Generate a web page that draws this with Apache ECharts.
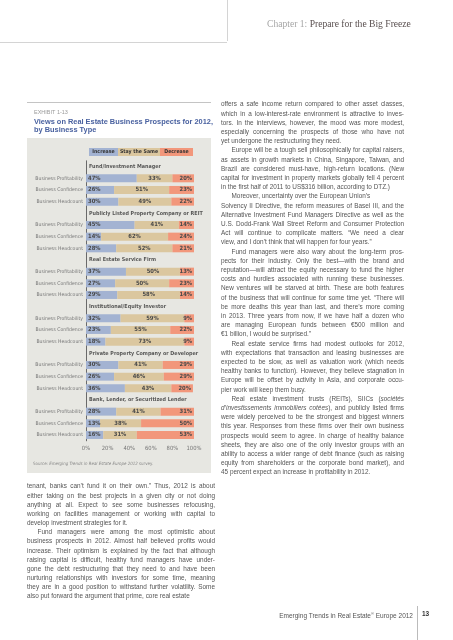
<!DOCTYPE html>
<html><head><meta charset="utf-8">
<script src="https://cdn.jsdelivr.net/npm/echarts@6/dist/echarts.min.js"></script>
<style>
html,body{margin:0;padding:0;background:#fff;}
#wrap{position:relative;width:453px;height:640px;overflow:hidden;}
#chart{position:absolute;left:0;top:0;width:453px;height:640px;}
.ln{position:absolute;font-family:"Liberation Sans",Arial,sans-serif;font-size:6.4px;line-height:9.2px;color:#555;white-space:nowrap;text-align:left;}
.ln.j{text-align:justify;text-align-last:justify;}
.rule{position:absolute;background:#d4d4d4;}
</style></head>
<body><div id="wrap"><div id="chart"></div><div id="txt"></div></div>
<script>
// ---- data ----
const groups = ['Fund/Investment Manager','Publicly Listed Property Company or REIT','Real Estate Service Firm','Institutional/Equity Investor','Private Property Company or Developer','Bank, Lender, or Securitized Lender'];
const metrics = ['Business Profitability','Business Confidence','Business Headcount'];
const increase = [47,26,30, 45,14,28, 37,27,29, 32,23,18, 30,26,36, 28,13,16];
const stay     = [33,51,49, 41,62,52, 50,50,58, 59,55,73, 41,46,43, 41,38,31];
const decrease = [20,23,22, 14,24,21, 13,23,14,  9,22, 9, 29,29,20, 31,50,53];
const seriesNames = ['Increase','Stay the Same','Decrease'];
const xTicks = ['0%','20%','40%','60%','80%','100%'];

const colors = ['#a3b3d2','#dbc79f','#f2977b'];
const narrow = '"Liberation Sans Narrow","Arial Narrow","DejaVu Sans Condensed",sans-serif';

// build slots: header + 3 metric rows per group
const cats = [], isHeader = [], headerPts = [];
const dInc = [], dStay = [], dDec = [];
groups.forEach((g, gi) => {
  headerPts.push([0, cats.length, g]);
  cats.push(g); isHeader.push(true);
  dInc.push('-'); dStay.push('-'); dDec.push('-');
  metrics.forEach((m, mi) => {
    const k = gi*3+mi;
    cats.push(m); isHeader.push(false);
    dInc.push(increase[k]); dStay.push(stay[k]); dDec.push(decrease[k]);
  });
});

const chart = echarts.init(document.getElementById('chart'), null, {renderer:'canvas'});
const lblBase = {show:true, formatter:'{c}%', fontSize:5.8, fontWeight:'bold', color:'#4a4a4a', fontFamily:narrow};
const mkBar = (name, data, color, pos) => ({
  name, type:'bar', stack:'all', data, barWidth:8,
  itemStyle:{color},
  label:Object.assign({}, lblBase, {position:pos, distance:2}),
  z:3
});
const legendW = [29,42,33];
let lx = 89;
const legendEls = [];
seriesNames.forEach((n,i)=>{
  legendEls.push({type:'rect', shape:{x:lx,y:148,width:legendW[i],height:8}, style:{fill:colors[i]}, z:5});
  legendEls.push({type:'text', x:lx+legendW[i]/2, y:152, style:{text:n, fill:'#333', font:'bold 5.2px '+narrow, align:'center', verticalAlign:'middle'}, z:6});
  lx += legendW[i];
});

chart.setOption({
  animation:false,
  backgroundColor:'#fff',
  graphic:[
    {type:'rect', shape:{x:27,y:138,width:184,height:335}, style:{fill:'#e7e7e2'}, z:-10},
    {type:'rect', shape:{x:27,y:102,width:184,height:1}, style:{fill:'#c4c4c4'}, z:-5},
    {type:'text', x:34, y:112.5, style:{text:'EXHIBIT 1-13', fill:'#9a9a9a', font:'5.5px "Liberation Sans",sans-serif', verticalAlign:'middle'}},
    {type:'text', x:34, y:121.5, style:{text:'Views on Real Estate Business Prospects for 2012,', fill:'#4a62a0', font:'bold 7.4px "Liberation Sans",sans-serif', verticalAlign:'middle'}},
    {type:'text', x:34, y:130, style:{text:'by Business Type', fill:'#4a62a0', font:'bold 7.4px "Liberation Sans",sans-serif', verticalAlign:'middle'}},
    {type:'text', x:33, y:464, style:{rich:{a:{fontSize:4.4,fill:'#888',fontFamily:narrow},b:{fontSize:4.4,fill:'#888',fontStyle:'italic',fontFamily:narrow}}, text:'{a|Source: }{b|Emerging Trends in Real Estate Europe 2012}{a| survey.}', verticalAlign:'middle'}},
    ...legendEls
  ],
  grid:{left:86, top:160.8, width:108, height:280, containLabel:false},
  xAxis:{type:'value', min:0, max:100, interval:20,
    axisLine:{show:false}, axisTick:{show:false}, splitLine:{show:false},
    axisLabel:{formatter:v=>xTicks[Math.round(v/20)], fontSize:5.8, color:'#777', margin:5, fontFamily:narrow}},
  yAxis:{type:'category', data:cats, inverse:true,
    axisLine:{show:true, lineStyle:{color:'#6a6a6a', width:1}}, axisTick:{show:false},
    axisLabel:{formatter:(v,i)=>isHeader[i]?'':v, fontSize:5.1, color:'#777', margin:3, fontFamily:narrow}},
  series:[
    mkBar(seriesNames[0], dInc, colors[0], 'insideLeft'),
    mkBar(seriesNames[1], dStay, colors[1], 'inside'),
    mkBar(seriesNames[2], dDec, colors[2], 'insideRight'),
    {type:'scatter', data:headerPts, symbolSize:0, silent:true, z:4,
     label:{show:true, position:'right', distance:3, formatter:p=>p.data[2], fontSize:5.4, fontWeight:'bold', color:'#333', fontFamily:narrow}}
  ]
});

// ---- page text (not chart data) ----
const rightLines = [
 ['offers a safe income return compared to other asset classes,',0,1],
 ['which in a low-interest-rate environment is attractive to inves-',0,1],
 ['tors. In the interviews, however, the mood was more modest,',0,1],
 ['especially concerning the prospects of those who have not',0,1],
 ['yet undergone the restructuring they need.',0,0],
 ['Europe will be a tough sell philosophically for capital raisers,',1,1],
 ['as assets in growth markets in China, Singapore, Taiwan, and',0,1],
 ['Brazil are considered must-have, high-return locations. (New',0,1],
 ['capital for investment in property markets globally fell 4 percent',0,1],
 ['in the first half of 2011 to US$316 billion, according to DTZ.)',0,0],
 ['Moreover, uncertainty over the European Union\u2019s',1,0],
 ['Solvency II Directive, the reform measures of Basel III, and the',0,1],
 ['Alternative Investment Fund Managers Directive as well as the',0,1],
 ['U.S. Dodd-Frank Wall Street Reform and Consumer Protection',0,1],
 ['Act will continue to complicate matters. \u201cWe need a clear',0,1],
 ['view, and I don\u2019t think that will happen for four years.\u201d',0,0],
 ['Fund managers were also wary about the long-term pros-',1,1],
 ['pects for their industry. Only the best\u2014with the brand and',0,1],
 ['reputation\u2014will attract the equity necessary to fund the higher',0,1],
 ['costs and hurdles associated with running these businesses.',0,1],
 ['New ventures will be starved at birth. These are both features',0,1],
 ['of the business that will continue for some time yet. \u201cThere will',0,1],
 ['be more deaths this year than last, and there\u2019s more coming',0,1],
 ['in 2013. Three years from now, if we have half a dozen who',0,1],
 ['are managing European funds between \u20ac500 million and',0,1],
 ['\u20ac1 billion, I would be surprised.\u201d',0,0],
 ['Real estate service firms had modest outlooks for 2012,',1,1],
 ['with expectations that transaction and leasing businesses are',0,1],
 ['expected to be slow, as well as valuation work (which needs',0,1],
 ['healthy banks to function). However, they believe stagnation in',0,1],
 ['Europe will be offset by activity in Asia, and corporate occu-',0,1],
 ['pier work will keep them busy.',0,0],
 ['Real estate investment trusts (REITs), SIICs (<i>soci\u00e9t\u00e9s</i>',1,1],
 ['<i>d\u2019investissements immobiliers cot\u00e9es</i>), and publicly listed firms',0,1],
 ['were widely perceived to be the strongest and biggest winners',0,1],
 ['this year. Responses from these firms over their own business',0,1],
 ['prospects would seem to agree. In charge of healthy balance',0,1],
 ['sheets, they are also one of the only investor groups with an',0,1],
 ['ability to access a wider range of debt finance (such as raising',0,1],
 ['equity from shareholders or the corporate bond market), and',0,1],
 ['45 percent expect an increase in profitability in 2012.',0,0]
];
const leftLines = [
 ['tenant, banks can\u2019t fund it on their own.\u201d Thus, 2012 is about',0,1],
 ['either taking on the best projects in a given city or not doing',0,1],
 ['anything at all. Expect to see some businesses refocusing,',0,1],
 ['working on facilities management or working with capital to',0,1],
 ['develop investment strategies for it.',0,0],
 ['Fund managers were among the most optimistic about',1,1],
 ['business prospects in 2012. Almost half believed profits would',0,1],
 ['increase. Their optimism is explained by the fact that although',0,1],
 ['raising capital is difficult, healthy fund managers have under-',0,1],
 ['gone the debt restructuring that they need to and have been',0,1],
 ['nurturing relationships with investors for some time, meaning',0,1],
 ['they are in a good position to withstand further volatility. Some',0,1],
 ['also put forward the argument that prime, core real estate',0,0]
];
let html = '';
function col(lines, x, w, y0, step){
  lines.forEach((l,i)=>{
    const ind = l[1]?10.5:0;
    html += `<div class="ln${l[2]?' j':''}" style="left:${x+ind}px;top:${(y0+i*step-4.6).toFixed(1)}px;width:${w-ind}px">${l[0]}</div>`;
  });
}
col(rightLines, 221, 183, 104, 9.2);
col(leftLines, 27, 188, 486, 9.17);
html += '<div class="rule" style="left:0;top:41.5px;width:227px;height:1.5px"></div>';
html += '<div class="rule" style="left:226.5px;top:0;width:1px;height:41px"></div>';
html += '<div style="position:absolute;left:267px;top:18px;font-family:\'Liberation Serif\',serif;font-size:9.6px;line-height:12px;white-space:nowrap"><span style="color:#a6a6a6">Chapter 1: </span><span style="color:#5a5050">Prepare for the Big Freeze</span></div>';
html += '<div style="position:absolute;right:40px;top:609px;font-family:\'Liberation Sans\',sans-serif;font-size:6.5px;line-height:9px;color:#555;white-space:nowrap">Emerging Trends in Real Estate<sup style="font-size:4px">\u00ae</sup> Europe 2012</div>';
html += '<div class="rule" style="left:417px;top:606px;width:1px;height:34px;background:#bbb"></div>';
html += '<div style="position:absolute;left:422px;top:609px;font-family:\'Liberation Sans\',sans-serif;font-size:6.5px;font-weight:bold;line-height:9px;color:#333">13</div>';
document.getElementById('txt').innerHTML = html;
</script></body></html>
